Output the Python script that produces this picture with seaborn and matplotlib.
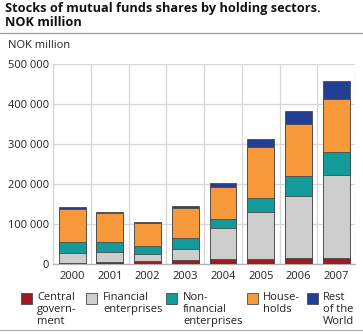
import matplotlib
matplotlib.use("Agg")
import matplotlib.pyplot as plt
import seaborn as sns
import pandas as pd
import numpy as np
from matplotlib.patches import Rectangle
from matplotlib.lines import Line2D

years = ["2000", "2001", "2002", "2003", "2004", "2005", "2006", "2007"]
central_government = [3300, 5800, 7500, 11000, 12500, 13300, 15000, 15000]
financial_enterprises = [24000, 24000, 17500, 28000, 77500, 118000, 156700, 207500]
nonfinancial_enterprises = [27500, 25000, 21000, 28000, 22500, 33300, 48300, 57500]
households = [82500, 72500, 56700, 73000, 81000, 127500, 130000, 132500]
rest_of_world = [5000, 4000, 4000, 6700, 9000, 20000, 33300, 45800]

series_names = ["Central\ngovern-\nment", "Financial\nenterprises", "Non-\nfinancial\nenterprises",
                "House-\nholds", "Rest\nof the\nWorld"]
series_values = [central_government, financial_enterprises, nonfinancial_enterprises,
                 households, rest_of_world]
colors = ["#9c1c20", "#cdcdcd", "#139b99", "#f7993b", "#223f93"]

sns.set_theme(style="white")
plt.rcParams['font.family'] = ['Open Sans', 'DejaVu Sans']

fig = plt.figure(figsize=(3.63, 3.34), dpi=100)
ax = fig.add_axes([53.3 / 363, (334 - 264.3) / 334, (355 - 53.3) / 363, 200 / 334])

df = pd.DataFrame({"year": years})
cum = np.cumsum(np.array(series_values), axis=0)
# draw from the top-most cumulative level down so each segment shows
for i in range(len(series_names) - 1, -1, -1):
    df["top"] = cum[i]
    sns.barplot(data=df, x="year", y="top", color=colors[i], ax=ax, width=0.71,
                edgecolor="#4a4a4a", linewidth=0.6, saturation=1, zorder=3)

ax.set_ylim(0, 500000)
ax.set_xlim(-0.5, len(years) - 0.5)
ax.set_xlabel("")
ax.set_ylabel("")
ax.set_yticks(np.arange(0, 500001, 100000))
ax.set_yticklabels(["0", "100 000", "200 000", "300 000", "400 000", "500 000"])
ax.set_xticks(range(len(years)))
ax.set_xticklabels(years)
ax.tick_params(axis="both", labelsize=8, colors="#222222", length=0, pad=3)
ax.tick_params(axis="x", pad=5)
ax.set_xticks(np.arange(-0.5, len(years), 1), minor=True)
ax.grid(True, axis="y", color="#d6d6d6", linewidth=0.9, zorder=0)
ax.grid(True, axis="x", which="minor", color="#d6d6d6", linewidth=0.9, zorder=0)
ax.grid(False, axis="x", which="major")
ax.tick_params(axis="x", which="minor", length=0)
for s in ["top", "right"]:
    ax.spines[s].set_visible(False)
ax.spines["left"].set_color("#d6d6d6")
ax.spines["left"].set_linewidth(0.9)
ax.spines["bottom"].set_color("#b0b0b0")
ax.spines["bottom"].set_linewidth(0.9)
ax.set_axisbelow(True)

# Title
fig.text(5 / 363, 1 - 2 / 334, "Stocks of mutual funds shares by holding sectors.\nNOK million",
         fontsize=9.2, fontweight="bold", va="top", ha="left", color="#111111", linespacing=1.05)
fig.add_artist(Line2D([0, 1], [1 - 32.5 / 334, 1 - 32.5 / 334], transform=fig.transFigure,
                      color="#9a9a9a", linewidth=0.9))
fig.text(8 / 363, 1 - 40 / 334, "NOK million", fontsize=8, va="top", ha="left", color="#222222")

# Legend
sq_x = [21, 86, 166, 247, 307]
tx_x = [37, 103, 183, 263, 323]
for i in range(len(series_names)):
    fig.add_artist(Rectangle((sq_x[i] / 363, 1 - 304 / 334), 11 / 363, 11 / 334,
                             transform=fig.transFigure, facecolor=colors[i],
                             edgecolor="#4a4a4a", linewidth=0.6))
    fig.text(tx_x[i] / 363, 1 - 292.5 / 334, series_names[i], fontsize=8, va="top", ha="left",
             color="#222222", linespacing=1.08)
fig.add_artist(Line2D([0, 1], [1 - 329.5 / 334, 1 - 329.5 / 334], transform=fig.transFigure,
                      color="#b0b0b0", linewidth=0.9))

fig.savefig("out.png", dpi=100)
